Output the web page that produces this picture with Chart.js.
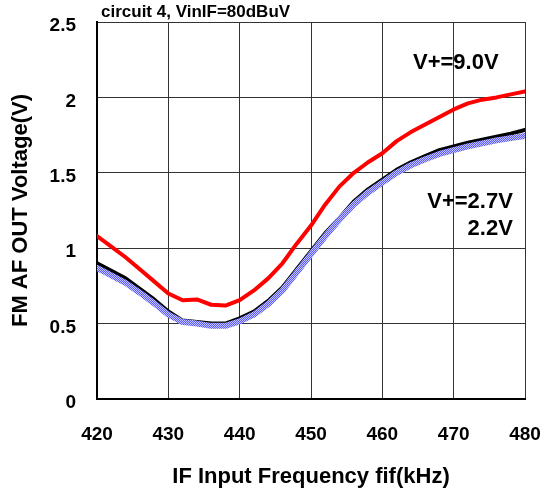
<!DOCTYPE html>
<html>
<head>
<meta charset="utf-8">
<script src="https://cdn.jsdelivr.net/npm/chart.js@4/dist/chart.umd.min.js"></script>
<style>
  html, body { margin: 0; padding: 0; background: #fff; }
  #wrap { width: 544px; height: 495px; }
</style>
</head>
<body>
<div id="wrap"><canvas id="fmChart" width="544" height="495"></canvas></div>
<script>
// IF input frequency sweep (kHz) and FM AF output (V) per supply voltage
const freqKHz = [420, 422, 424, 426, 428, 430, 432, 434, 436, 438, 440, 442, 444, 446, 448, 450,
                 452, 454, 456, 458, 460, 462, 464, 466, 468, 470, 472, 474, 476, 478, 480];
const out90V = [1.08, 1.01, 0.94, 0.86, 0.78, 0.70, 0.655, 0.66, 0.625, 0.62, 0.655, 0.72, 0.80, 0.90, 1.03, 1.15,
                1.29, 1.41, 1.50, 1.57, 1.63, 1.71, 1.77, 1.82, 1.87, 1.92, 1.96, 1.985, 2.00, 2.02, 2.04];
const out27V = [0.90, 0.85, 0.80, 0.73, 0.66, 0.58, 0.52, 0.51, 0.50, 0.50, 0.535, 0.58, 0.65, 0.74, 0.86, 0.98,
                1.10, 1.20, 1.31, 1.39, 1.455, 1.52, 1.57, 1.61, 1.65, 1.675, 1.70, 1.72, 1.74, 1.76, 1.785];
const out22V = [0.87, 0.82, 0.77, 0.705, 0.635, 0.56, 0.51, 0.50, 0.485, 0.485, 0.515, 0.56, 0.63, 0.72, 0.84, 0.96,
                1.08, 1.19, 1.29, 1.37, 1.435, 1.50, 1.55, 1.59, 1.625, 1.65, 1.675, 1.695, 1.715, 1.73, 1.745];
const xTicks = [420, 430, 440, 450, 460, 470, 480];
const yTicks = [0, 0.5, 1, 1.5, 2, 2.5];

const FONT = 'Arial, "Liberation Sans", sans-serif';

const toPoints = ys => ys.map((y, i) => ({ x: freqKHz[i], y }));

// dithered light-blue stroke for the 2.2V trace
function ditherPattern() {
    const c = document.createElement('canvas');
    c.width = 2; c.height = 2;
    const g = c.getContext('2d');
    g.fillStyle = '#5a5aff'; g.fillRect(0, 0, 2, 2);
    g.fillStyle = '#c4c4ff'; g.fillRect(0, 0, 1, 1); g.fillRect(1, 1, 1, 1);
    return g.createPattern(c, 'repeat');
}

// chart caption and curve labels
const labelsPlugin = {
    id: 'curveLabels',
    afterDatasetsDraw(chart) {
        const { ctx, chartArea, scales: { x, y } } = chart;
        ctx.save();
        ctx.fillStyle = '#000';
        ctx.font = 'bold 17px ' + FONT;
        ctx.textAlign = 'left';
        ctx.textBaseline = 'middle';
        ctx.fillText('circuit 4, VinIF=80dBuV', chartArea.left + 4, 12);

        ctx.font = 'bold 22px ' + FONT;
        ctx.textAlign = 'center';
        ctx.fillText('V+=9.0V', x.getPixelForValue(470.3), y.getPixelForValue(2.23));
        ctx.textAlign = 'right';
        ctx.fillText('V+=2.7V', x.getPixelForValue(478.3), y.getPixelForValue(1.31));
        ctx.fillText('2.2V', x.getPixelForValue(478.3), y.getPixelForValue(1.13));
        ctx.restore();
    }
};

const ctx = document.getElementById('fmChart').getContext('2d');
new Chart(ctx, {
    type: 'line',
    data: {
        datasets: [
            { label: 'V+=9.0V', data: toPoints(out90V), borderColor: '#ff0000', borderWidth: 4, order: 0 },
            { label: 'V+=2.2V', data: toPoints(out22V), borderColor: ditherPattern(), borderWidth: 6, order: 1 },
            { label: 'V+=2.7V', data: toPoints(out27V), borderColor: '#000000', borderWidth: 4, order: 2 }
        ]
    },
    options: {
        responsive: false,
        animation: false,
        devicePixelRatio: 1,
        layout: { padding: { left: 0, top: 22, right: 19, bottom: 0 } },
        elements: { point: { radius: 0 }, line: { tension: 0, borderCapStyle: 'round', borderJoinStyle: 'round' } },
        plugins: { legend: { display: false }, tooltip: { enabled: false } },
        scales: {
            x: {
                type: 'linear',
                min: xTicks[0],
                max: xTicks[xTicks.length - 1],
                afterBuildTicks: s => { s.ticks = xTicks.map(v => ({ value: v })); },
                afterFit: s => { s.height = 96; s.paddingLeft = 0; s.paddingRight = 0; },
                grid: { color: '#333', lineWidth: 1, drawTicks: false },
                border: { color: '#000', width: 2 },
                ticks: { color: '#000', font: { family: FONT, size: 19, weight: 'bold' }, padding: 24 },
                title: {
                    display: true,
                    text: 'IF Input Frequency fif(kHz)',
                    color: '#000',
                    font: { family: FONT, size: 22, weight: 'bold' },
                    padding: { top: 0, bottom: 5 }
                }
            },
            y: {
                min: yTicks[0],
                max: yTicks[yTicks.length - 1],
                afterBuildTicks: s => { s.ticks = yTicks.map(v => ({ value: v })); },
                afterFit: s => { s.width = 97; s.paddingTop = 0; s.paddingBottom = 0; },
                grid: { color: '#333', lineWidth: 1, drawTicks: false },
                border: { color: '#000', width: 2 },
                ticks: {
                    color: '#000',
                    font: { family: FONT, size: 19, weight: 'bold' },
                    padding: 21,
                    labelOffset: 4,
                    callback: v => String(v)
                },
                title: {
                    display: true,
                    text: 'FM AF OUT Voltage(V)',
                    color: '#000',
                    font: { family: FONT, size: 22, weight: 'bold' },
                    padding: { top: 8, bottom: 0 }
                }
            }
        }
    },
    plugins: [labelsPlugin]
});
</script>
</body>
</html>
